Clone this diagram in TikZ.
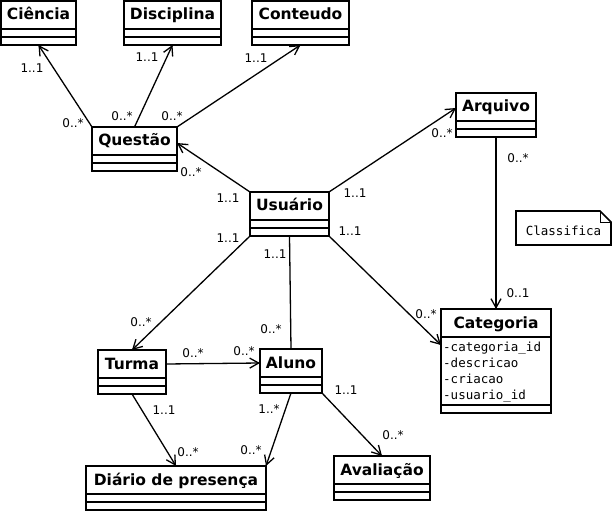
\documentclass[tikz,border=0pt]{standalone}
\usepackage{fontspec}
\setmainfont{DejaVu Sans}
\setmonofont{DejaVu Sans Mono}
\usepackage{tikz}
\usetikzlibrary{arrows.meta}
\usetikzlibrary{decorations.markings}
\newcommand{\clsfont}{\bfseries\fontsize{15.5}{18}\selectfont}
\newcommand{\multfont}{\fontsize{12}{14}\selectfont}
\newcommand{\attrfont}{\ttfamily\fontsize{12.5}{16}\selectfont}
\tikzset{assoc/.style = {line width=1.3pt,
                         decoration={markings,
                                     mark=at position 1 with {\arrow{Straight Barb[length=9pt, width=10pt, line width=1.3pt]}}},
                         postaction={decorate}}}
\tikzset{link/.style = {line width=1.3pt}}
\tikzset{umlclass/.style = {draw, line width=1.6pt, anchor=north west, inner sep=0, outer sep=0,
                            minimum height=#1, font=\clsfont, text height=19pt, text depth=25pt,
                            path picture={\draw [line width=1.6pt]
                              ([yshift=-28pt]path picture bounding box.north west) -- ([yshift=-28pt]path picture bounding box.north east)
                              ([yshift=8pt]path picture bounding box.south west) -- ([yshift=8pt]path picture bounding box.south east);}},
         umlclass/.default = 44pt}
\tikzset{mult/.style = {font=\multfont, inner sep=0}}
\tikzset{note/.style = {anchor=north west, inner sep=0, outer sep=0, minimum width=95pt, minimum height=34pt,
                        font=\attrfont, text height=18pt, text depth=2pt}}

\begin{document}
\begin{tikzpicture}[x=1pt, y=-1pt]
  \useasboundingbox (0, 0) rectangle (613, 513);

  \node [umlclass, minimum width=75pt] (ciencia) at (1, 1) {Ciência};
  \node [umlclass, minimum width=97pt] (discip) at (124, 1) {Disciplina};
  \node [umlclass, minimum width=97pt] (conteudo) at (252, 1) {Conteudo};
  \node [umlclass, minimum width=85pt] (questao) at (92, 127) {Questão};
  \node [umlclass, minimum width=80pt] (arquivo) at (456, 93) {Arquivo};
  \node [umlclass, minimum width=79pt] (usuario) at (250, 192) {Usuário};
  \node [umlclass=104pt, text depth=85pt, minimum width=110pt] (categoria) at (441, 309) {Categoria};
  \node [umlclass, minimum width=68pt] (turma) at (98, 350) {Turma};
  \node [umlclass, minimum width=62pt] (aluno) at (260, 349) {Aluno};
  \node [umlclass, minimum width=180pt] (diario) at (86, 466) {Diário de presença};
  \node [umlclass, minimum width=96pt] (avaliacao) at (334, 456) {Avaliação};

  \node [anchor=north west, inner sep=0, align=left, font=\attrfont] (catattr) at (443, 341.5)
    {-categoria\_id\\-descricao\\-criacao\\-usuario\_id};

  \node [note] (classif) at (516, 211) {Classifica};
  \draw [line width=1.6pt] (classif.north west) -- ([xshift=-11pt]classif.north east)
    -- ([yshift=-11pt]classif.north east) -- (classif.south east) -- (classif.south west) -- cycle;
  \draw [line width=0.6pt] ([xshift=-11pt]classif.north east) |- ([yshift=-11pt]classif.north east);

  \draw [assoc] (questao.north west) -- (ciencia.south);
  \draw [assoc] (questao.north) -- (discip.south);
  \draw [assoc] (questao.north east) -- (conteudo.south);
  \draw [assoc] (usuario.north west) -- ([yshift=-16pt]questao.north east);
  \draw [assoc] (usuario.north east) -- ([yshift=-15pt]arquivo.north west);
  \draw [assoc] (usuario.south west) -- (turma.north);
  \draw [link] (usuario.south) -- (aluno.north);
  \draw [assoc] (usuario.south east) -- ([yshift=-36pt]categoria.north west);
  \draw [assoc] (arquivo.south) -- (categoria.north);
  \draw [assoc] ([yshift=-14pt]turma.north east) -- ([yshift=-14pt]aluno.north west);
  \draw [assoc] (turma.south) -- (diario.north);
  \draw [assoc] (aluno.south) -- (diario.north east);
  \draw [assoc] (aluno.south east) -- (avaliacao.north);

  % multiplicities
  \foreach \x/\y/\t [count=\i] in {32/68/1..1, 73/123/0..*, 147/57/1..1, 122/116/0..*,
                                   256/58/1..1, 172/116/0..*, 191/172/0..*, 228/198/1..1,
                                   228/238/1..1, 275/254/1..1, 271/329/0..*, 141/322/0..*,
                                   193/353/0..*, 244/351/0..*, 164/410/1..1, 188/452/0..*,
                                   269/409/1..*, 251/450/0..*, 346/390/1..1, 393/435/0..*,
                                   355/193/1..1, 442/133/0..*, 350/231/1..1, 426/314/0..*,
                                   518/158/0..*, 518/293/0..1} {
    \node [mult] (m\i) at (\x, \y) {\t};
  }
\end{tikzpicture}
\end{document}
